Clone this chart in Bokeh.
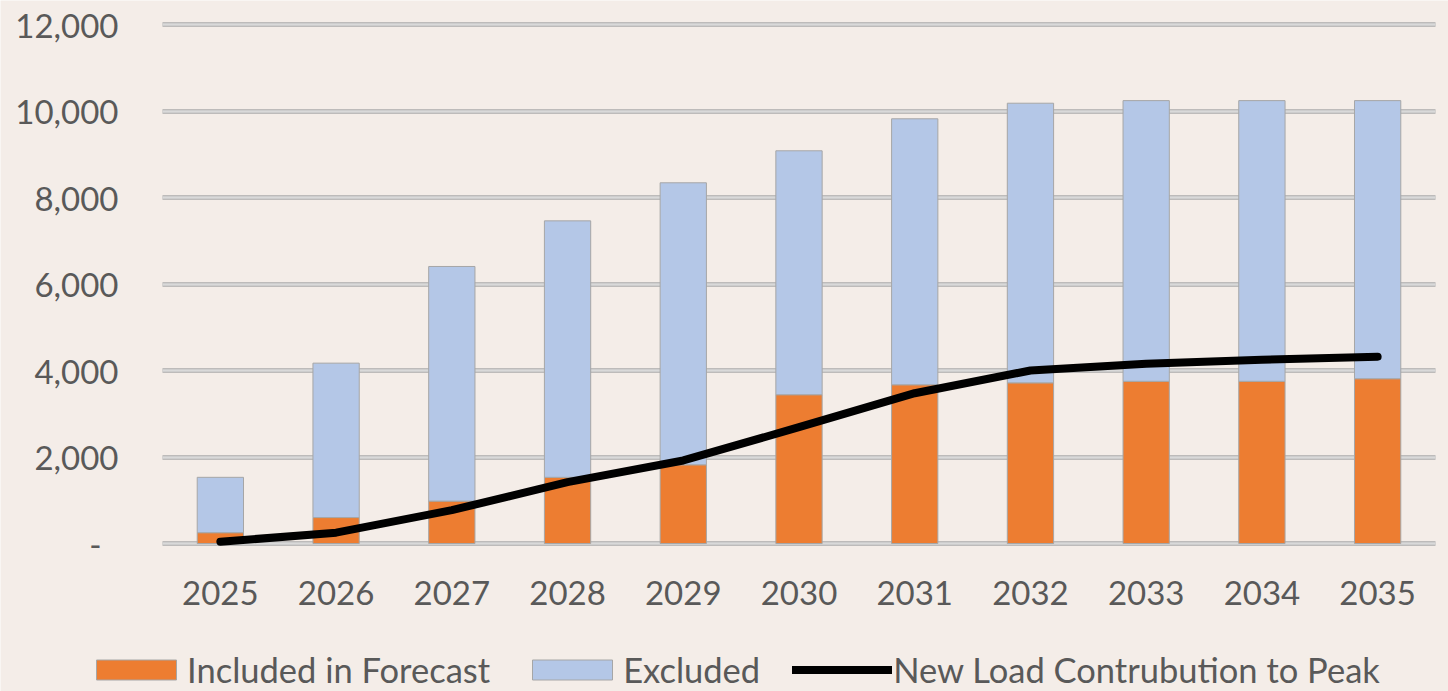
from bokeh.plotting import figure
from bokeh.models import (ColumnDataSource, Legend, LegendItem, Grid, FixedTicker,
                          CustomJSTickFormatter, Range1d)
from bokeh.embed import file_html
from bokeh.resources import INLINE

# ---- data ----
years = [2025, 2026, 2027, 2028, 2029, 2030, 2031, 2032, 2033, 2034, 2035]
included = [250, 600, 980, 1530, 1820, 3440, 3670, 3715, 3750, 3750, 3810]
excluded = [1280, 3570, 5425, 5930, 6520, 5640, 6150, 6465, 6490, 6490, 6430]
peak = [40, 250, 770, 1420, 1920, 2690, 3475, 4000, 4155, 4250, 4320]
y_ticks = [0, 2000, 4000, 6000, 8000, 10000, 12000]

BG = "#F4EDE8"
ORANGE = "#ED7D31"
BLUE = "#B4C7E7"
TXT = "#595959"
FONT = "Lato"

W, H = 1448, 691
# plot-area geometry in pixels
PL, PR, PT, PB = 162, 1435, 24, 543
step = (PR - PL) / len(years)
x0 = years[0] - 0.5 - PL / step
x1 = years[-1] + 0.5 + (W - PR) / step
ppu = (PB - PT) / y_ticks[-1]
y1 = y_ticks[-1] + PT / ppu
y0 = -(H - PB) / ppu

source = ColumnDataSource(dict(year=years, included=included, excluded=excluded, peak=peak))

p = figure(x_range=Range1d(x0, x1), y_range=Range1d(y0, y1), width=W, height=H,
           output_backend="svg", toolbar_location=None, title=None,
           min_border_left=0, min_border_right=0, min_border_top=0, min_border_bottom=0)
p.background_fill_color = BG
p.border_fill_color = BG
p.outline_line_color = None

xb = (years[0] - 0.5, years[-1] + 0.5)
# grid (double-toned lines)
p.xgrid.visible = False
p.ygrid.ticker = FixedTicker(ticks=y_ticks)
p.ygrid.grid_line_color = "#ababab"
p.ygrid.grid_line_width = 4.5
p.ygrid.cross_bounds = xb
g2 = Grid(dimension=1, ticker=FixedTicker(ticks=y_ticks), grid_line_color="#d9d9d9",
          grid_line_width=2.5, cross_bounds=xb)
p.add_layout(g2)

bars = p.vbar_stack(["included", "excluded"], x="year", width=0.4, color=[ORANGE, BLUE],
                    line_color="#a6a6a6", line_width=1, source=source)
ln = p.line("year", "peak", source=source, line_color="black", line_width=8,
            line_cap="round", line_join="round")

# axes
p.yaxis.ticker = FixedTicker(ticks=y_ticks)
p.yaxis.formatter = CustomJSTickFormatter(code="""
return tick == 0 ? "-\\u00a0\\u00a0" : tick.toLocaleString("en-US");
""")
p.yaxis.fixed_location = years[0] - 0.5
p.xaxis.ticker = FixedTicker(ticks=years)
p.xaxis.formatter = CustomJSTickFormatter(code="return tick.toFixed(0);")
p.xaxis.fixed_location = 0
for ax in (p.xaxis, p.yaxis):
    ax.axis_line_color = None
    ax.major_tick_line_color = None
    ax.minor_tick_line_color = None
    ax.major_tick_out = 0
    ax.major_tick_in = 0
    ax.major_label_text_font = FONT
    ax.major_label_text_font_size = "33px"
    ax.major_label_text_color = TXT
p.yaxis.major_label_standoff = 44
p.xaxis.major_label_standoff = 37

legend = Legend(items=[
    LegendItem(label="Included in Forecast", renderers=[bars[0]]),
    LegendItem(label="Excluded", renderers=[bars[1]]),
    LegendItem(label="New Load Contrubution to Peak", renderers=[ln]),
], orientation="horizontal", location=(86, 1))
legend.background_fill_alpha = 0
legend.border_line_color = None
legend.padding = 0
legend.margin = 0
legend.spacing = 32
legend.glyph_width = 100
legend.glyph_height = 25
legend.label_standoff = 1
legend.label_height = 30
legend.label_text_font = FONT
legend.label_text_font_size = "34.5px"
legend.label_text_color = TXT
p.add_layout(legend, "center")

open("out.html", "w").write(file_html(p, INLINE))
